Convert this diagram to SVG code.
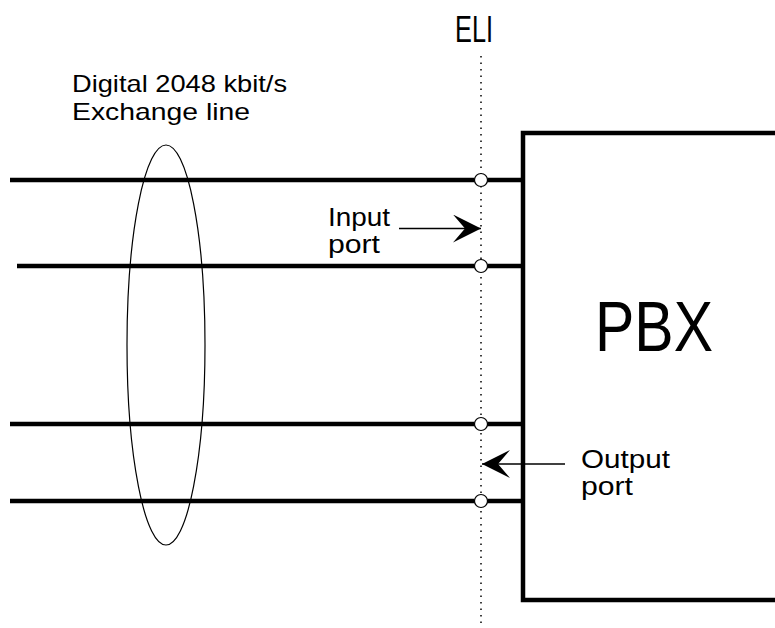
<svg xmlns="http://www.w3.org/2000/svg" width="775" height="628" viewBox="0 0 775 628">
<style>
.t{font-family:"Liberation Sans",Arial,sans-serif;fill:#000}
.w{stroke:#000;stroke-width:4.5;fill:none}
.c{stroke:#000;stroke-width:1.2;fill:#fff}
.a{stroke:#000;stroke-width:1.5;fill:none}
</style>
<defs>
<marker id="ah" markerWidth="30" markerHeight="30" refX="28" refY="14" orient="auto" markerUnits="userSpaceOnUse">
<path d="M0,0 L28,14 L0,28 L12,14 Z" fill="#000"/>
</marker>
</defs>
<rect width="775" height="628" fill="#fff"/>
<g id="eli">
<text class="t" x="455" y="42" font-size="36" textLength="38" lengthAdjust="spacingAndGlyphs">ELI</text>
<line x1="481" y1="56" x2="481" y2="628" stroke="#000" stroke-width="1.5" stroke-dasharray="1.5,5"/>
</g>
<g id="pbx">
<rect class="w" x="523" y="133" width="262" height="467"/>
<text class="t" x="595" y="351" font-size="71" textLength="118" lengthAdjust="spacingAndGlyphs">PBX</text>
</g>
<g id="connectors">
<line class="w" x1="10" y1="180" x2="523" y2="180"/>
<line class="w" x1="17" y1="266" x2="523" y2="266"/>
<line class="w" x1="10" y1="424" x2="523" y2="424"/>
<line class="w" x1="10" y1="501" x2="523" y2="501"/>
<circle class="c" cx="481" cy="180" r="6.5"/>
<circle class="c" cx="481" cy="266" r="6.5"/>
<circle class="c" cx="481" cy="424" r="6.5"/>
<circle class="c" cx="481" cy="501" r="6.5"/>
<line class="a" x1="399" y1="228.5" x2="481" y2="228.5" marker-end="url(#ah)"/>
<line class="a" x1="565" y1="464" x2="482" y2="464" marker-end="url(#ah)"/>
</g>
<g id="bundle">
<ellipse cx="166" cy="345" rx="39" ry="200" fill="none" stroke="#000" stroke-width="1.2"/>
<text class="t" x="72" y="92" font-size="24" textLength="215" lengthAdjust="spacingAndGlyphs">Digital 2048 kbit/s</text>
<text class="t" x="72" y="120" font-size="24" textLength="178" lengthAdjust="spacingAndGlyphs">Exchange line</text>
</g>
<g id="input-label">
<text class="t" x="328" y="226" font-size="25" textLength="62" lengthAdjust="spacingAndGlyphs">Input</text>
<text class="t" x="328" y="253" font-size="25" textLength="52" lengthAdjust="spacingAndGlyphs">port</text>
</g>
<g id="output-label">
<text class="t" x="581" y="468" font-size="25" textLength="89" lengthAdjust="spacingAndGlyphs">Output</text>
<text class="t" x="581" y="495" font-size="25" textLength="52" lengthAdjust="spacingAndGlyphs">port</text>
</g>
</svg>
